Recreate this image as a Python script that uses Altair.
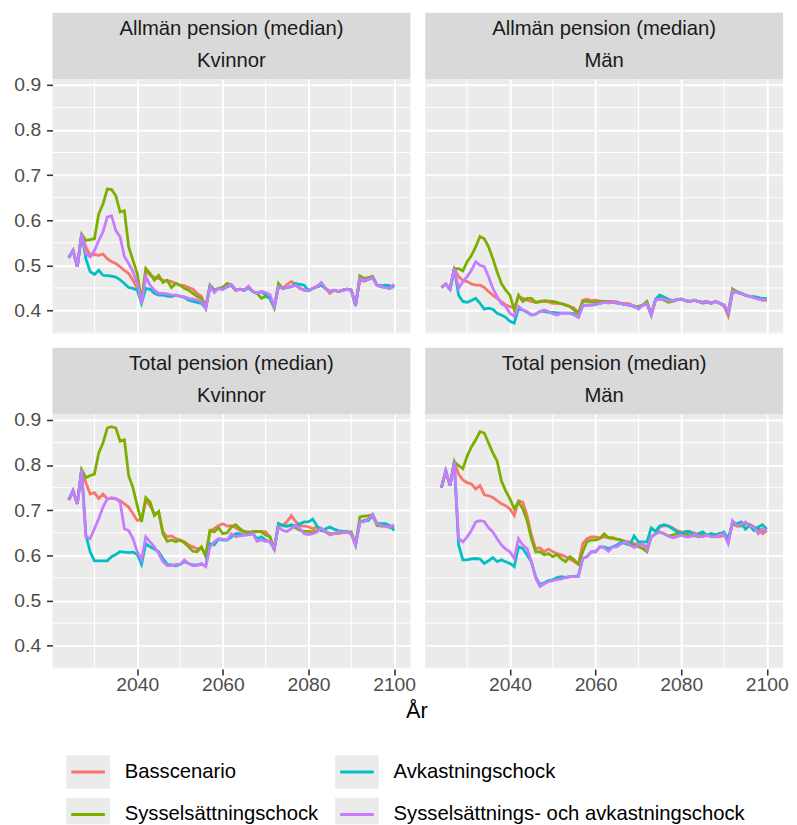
import altair as alt
import pandas as pd

YEARS = list(range(2024, 2101))
SERIES = ["Basscenario", "Sysselsättningschock", "Avkastningschock",
          "Sysselsättnings- och avkastningschock"]
COLORS = ["#F8766D", "#7CAE00", "#00BFC4", "#C77CFF"]
PANEL_TYPE = ["Allmän pension (median)", "Allmän pension (median)",
              "Total pension (median)", "Total pension (median)"]
PANEL_SEX = ["Kvinnor", "Män", "Kvinnor", "Män"]
X_TITLE = "År"

# ---- Allmän pension, Kvinnor ----
AK_BAS = [0.517, 0.533, 0.497, 0.569, 0.541, 0.522, 0.524, 0.522, 0.525, 0.515,
          0.508, 0.504, 0.497, 0.489, 0.482, 0.467, 0.449, 0.418, 0.489, 0.478,
          0.474, 0.471, 0.467, 0.466, 0.464, 0.460, 0.456, 0.455, 0.451, 0.447,
          0.438, 0.431, 0.409, 0.456, 0.445, 0.449, 0.447, 0.453, 0.456, 0.445,
          0.447, 0.445, 0.451, 0.442, 0.438, 0.442, 0.434, 0.427, 0.409, 0.453,
          0.449, 0.458, 0.464, 0.458, 0.449, 0.445, 0.444, 0.449, 0.453, 0.456,
          0.449, 0.438, 0.445, 0.442, 0.445, 0.447, 0.445, 0.412, 0.468, 0.465,
          0.469, 0.473, 0.456, 0.453, 0.451, 0.449, 0.456]
AK_SYS = [0.517, 0.533, 0.497, 0.569, 0.555, 0.557, 0.559, 0.614, 0.636, 0.669,
          0.668, 0.654, 0.618, 0.621, 0.541, 0.511, 0.482, 0.420, 0.493, 0.482,
          0.467, 0.478, 0.462, 0.467, 0.451, 0.460, 0.456, 0.449, 0.445, 0.438,
          0.431, 0.427, 0.405, 0.456, 0.445, 0.449, 0.452, 0.460, 0.456, 0.445,
          0.447, 0.445, 0.451, 0.442, 0.438, 0.427, 0.431, 0.427, 0.405, 0.460,
          0.449, 0.451, 0.453, 0.456, 0.449, 0.445, 0.444, 0.449, 0.453, 0.456,
          0.449, 0.442, 0.445, 0.442, 0.445, 0.447, 0.445, 0.412, 0.477, 0.471,
          0.473, 0.476, 0.456, 0.453, 0.451, 0.449, 0.456]
AK_AVK = [0.517, 0.533, 0.497, 0.569, 0.515, 0.486, 0.480, 0.489, 0.478, 0.477,
          0.476, 0.474, 0.468, 0.460, 0.451, 0.449, 0.445, 0.416, 0.449, 0.447,
          0.438, 0.434, 0.434, 0.432, 0.431, 0.434, 0.431, 0.429, 0.423, 0.420,
          0.418, 0.416, 0.405, 0.454, 0.442, 0.449, 0.447, 0.453, 0.456, 0.445,
          0.447, 0.445, 0.451, 0.442, 0.438, 0.442, 0.434, 0.427, 0.409, 0.453,
          0.449, 0.451, 0.453, 0.460, 0.458, 0.456, 0.444, 0.449, 0.453, 0.456,
          0.449, 0.442, 0.445, 0.442, 0.445, 0.447, 0.445, 0.410, 0.471, 0.467,
          0.469, 0.473, 0.456, 0.455, 0.456, 0.455, 0.451]
AK_BOTH = [0.517, 0.533, 0.497, 0.569, 0.526, 0.519, 0.533, 0.555, 0.574, 0.607,
           0.610, 0.577, 0.563, 0.519, 0.504, 0.486, 0.460, 0.416, 0.475, 0.456,
           0.445, 0.438, 0.438, 0.437, 0.434, 0.434, 0.432, 0.430, 0.427, 0.425,
           0.423, 0.420, 0.405, 0.453, 0.440, 0.449, 0.447, 0.453, 0.458, 0.445,
           0.447, 0.445, 0.454, 0.442, 0.438, 0.442, 0.440, 0.435, 0.409, 0.453,
           0.449, 0.451, 0.453, 0.456, 0.449, 0.445, 0.444, 0.449, 0.453, 0.462,
           0.449, 0.442, 0.445, 0.442, 0.445, 0.447, 0.445, 0.412, 0.471, 0.467,
           0.469, 0.473, 0.456, 0.453, 0.451, 0.449, 0.458]

# ---- Allmän pension, Män ----
AM_BAS = [0.451, 0.459, 0.447, 0.493, 0.475, 0.467, 0.464, 0.459, 0.456, 0.456,
          0.451, 0.442, 0.434, 0.427, 0.420, 0.412, 0.409, 0.405, 0.431, 0.427,
          0.423, 0.420, 0.418, 0.419, 0.420, 0.419, 0.416, 0.416, 0.415, 0.413,
          0.409, 0.405, 0.394, 0.423, 0.425, 0.422, 0.423, 0.421, 0.420, 0.420,
          0.420, 0.419, 0.416, 0.416, 0.415, 0.409, 0.405, 0.412, 0.418, 0.390,
          0.423, 0.425, 0.425, 0.422, 0.422, 0.424, 0.425, 0.422, 0.420, 0.423,
          0.420, 0.416, 0.418, 0.416, 0.420, 0.416, 0.410, 0.388, 0.442, 0.440,
          0.438, 0.434, 0.431, 0.430, 0.429, 0.423, 0.425]
AM_SYS = [0.451, 0.459, 0.447, 0.493, 0.493, 0.488, 0.508, 0.522, 0.541, 0.564,
          0.559, 0.541, 0.515, 0.486, 0.460, 0.445, 0.434, 0.401, 0.434, 0.420,
          0.427, 0.427, 0.418, 0.420, 0.422, 0.421, 0.420, 0.418, 0.415, 0.412,
          0.409, 0.401, 0.394, 0.420, 0.420, 0.419, 0.418, 0.420, 0.421, 0.419,
          0.418, 0.417, 0.415, 0.413, 0.412, 0.409, 0.409, 0.412, 0.420, 0.392,
          0.423, 0.427, 0.423, 0.418, 0.420, 0.424, 0.425, 0.422, 0.420, 0.423,
          0.420, 0.418, 0.420, 0.416, 0.420, 0.416, 0.412, 0.398, 0.448, 0.442,
          0.438, 0.434, 0.431, 0.430, 0.427, 0.423, 0.423]
AM_AVK = [0.451, 0.459, 0.447, 0.493, 0.434, 0.420, 0.418, 0.422, 0.427, 0.416,
          0.403, 0.405, 0.403, 0.394, 0.390, 0.385, 0.376, 0.372, 0.405, 0.401,
          0.396, 0.390, 0.392, 0.398, 0.398, 0.396, 0.396, 0.395, 0.394, 0.394,
          0.394, 0.393, 0.385, 0.410, 0.412, 0.412, 0.413, 0.416, 0.418, 0.417,
          0.418, 0.417, 0.415, 0.413, 0.412, 0.409, 0.405, 0.412, 0.415, 0.390,
          0.425, 0.434, 0.430, 0.425, 0.422, 0.424, 0.425, 0.422, 0.420, 0.423,
          0.420, 0.418, 0.420, 0.416, 0.420, 0.416, 0.412, 0.394, 0.442, 0.440,
          0.438, 0.434, 0.431, 0.430, 0.428, 0.427, 0.427]
AM_BOTH = [0.451, 0.459, 0.447, 0.493, 0.449, 0.464, 0.475, 0.489, 0.508, 0.500,
           0.497, 0.475, 0.449, 0.431, 0.415, 0.409, 0.394, 0.387, 0.409, 0.401,
           0.398, 0.390, 0.392, 0.398, 0.401, 0.398, 0.393, 0.390, 0.394, 0.394,
           0.394, 0.390, 0.385, 0.412, 0.412, 0.412, 0.414, 0.416, 0.418, 0.417,
           0.418, 0.417, 0.415, 0.413, 0.412, 0.411, 0.403, 0.412, 0.415, 0.390,
           0.423, 0.425, 0.425, 0.422, 0.422, 0.424, 0.425, 0.422, 0.420, 0.423,
           0.420, 0.418, 0.420, 0.416, 0.420, 0.416, 0.412, 0.396, 0.444, 0.440,
           0.438, 0.434, 0.431, 0.428, 0.425, 0.423, 0.425]

# ---- Total pension, Kvinnor ----
TK_BAS = [0.723, 0.743, 0.714, 0.790, 0.761, 0.736, 0.739, 0.726, 0.736, 0.725,
          0.726, 0.725, 0.721, 0.714, 0.707, 0.692, 0.677, 0.681, 0.721, 0.710,
          0.692, 0.696, 0.652, 0.641, 0.643, 0.637, 0.634, 0.630, 0.623, 0.619,
          0.614, 0.617, 0.601, 0.655, 0.659, 0.666, 0.670, 0.665, 0.666, 0.661,
          0.655, 0.653, 0.652, 0.650, 0.653, 0.653, 0.652, 0.641, 0.615, 0.670,
          0.666, 0.675, 0.688, 0.675, 0.666, 0.665, 0.663, 0.659, 0.663, 0.655,
          0.652, 0.646, 0.648, 0.648, 0.650, 0.653, 0.648, 0.623, 0.674, 0.677,
          0.681, 0.685, 0.670, 0.668, 0.665, 0.661, 0.666]
TK_SYS = [0.723, 0.743, 0.714, 0.790, 0.772, 0.777, 0.780, 0.827, 0.849, 0.882,
          0.885, 0.882, 0.853, 0.856, 0.776, 0.750, 0.710, 0.674, 0.728, 0.718,
          0.688, 0.697, 0.648, 0.631, 0.634, 0.630, 0.634, 0.628, 0.619, 0.609,
          0.608, 0.619, 0.597, 0.655, 0.652, 0.661, 0.648, 0.650, 0.663, 0.668,
          0.659, 0.652, 0.650, 0.653, 0.653, 0.652, 0.645, 0.641, 0.612, 0.670,
          0.666, 0.665, 0.666, 0.661, 0.655, 0.653, 0.653, 0.652, 0.655, 0.659,
          0.653, 0.648, 0.648, 0.652, 0.653, 0.652, 0.652, 0.624, 0.685, 0.687,
          0.688, 0.690, 0.666, 0.665, 0.665, 0.663, 0.663]
TK_AVK = [0.723, 0.743, 0.714, 0.790, 0.645, 0.608, 0.588, 0.588, 0.588, 0.588,
          0.597, 0.602, 0.608, 0.607, 0.606, 0.607, 0.602, 0.580, 0.626, 0.619,
          0.614, 0.608, 0.593, 0.580, 0.579, 0.577, 0.580, 0.586, 0.582, 0.579,
          0.579, 0.580, 0.577, 0.626, 0.623, 0.636, 0.634, 0.634, 0.641, 0.648,
          0.648, 0.645, 0.646, 0.648, 0.637, 0.641, 0.634, 0.630, 0.614, 0.670,
          0.666, 0.665, 0.668, 0.665, 0.670, 0.674, 0.674, 0.680, 0.665, 0.655,
          0.659, 0.663, 0.658, 0.655, 0.653, 0.652, 0.648, 0.623, 0.674, 0.677,
          0.677, 0.690, 0.670, 0.670, 0.670, 0.666, 0.655]
TK_BOTH = [0.723, 0.743, 0.714, 0.790, 0.641, 0.637, 0.659, 0.681, 0.707, 0.725,
           0.728, 0.726, 0.718, 0.659, 0.655, 0.637, 0.608, 0.590, 0.641, 0.630,
           0.619, 0.604, 0.586, 0.577, 0.577, 0.580, 0.580, 0.590, 0.582, 0.577,
           0.577, 0.582, 0.575, 0.619, 0.630, 0.637, 0.636, 0.634, 0.648, 0.641,
           0.643, 0.645, 0.646, 0.648, 0.631, 0.634, 0.631, 0.631, 0.615, 0.663,
           0.655, 0.653, 0.659, 0.666, 0.659, 0.648, 0.646, 0.648, 0.652, 0.661,
           0.652, 0.645, 0.648, 0.653, 0.650, 0.652, 0.648, 0.623, 0.674, 0.674,
           0.681, 0.690, 0.670, 0.666, 0.665, 0.663, 0.668]

# ---- Total pension, Män ----
TM_BAS = [0.750, 0.787, 0.755, 0.807, 0.780, 0.767, 0.761, 0.758, 0.747, 0.755,
          0.734, 0.732, 0.728, 0.721, 0.714, 0.710, 0.703, 0.688, 0.721, 0.718,
          0.688, 0.645, 0.615, 0.617, 0.608, 0.614, 0.608, 0.604, 0.601, 0.597,
          0.592, 0.586, 0.580, 0.626, 0.637, 0.641, 0.641, 0.639, 0.641, 0.639,
          0.637, 0.636, 0.634, 0.631, 0.630, 0.626, 0.624, 0.623, 0.619, 0.641,
          0.648, 0.663, 0.666, 0.665, 0.661, 0.655, 0.652, 0.648, 0.652, 0.650,
          0.646, 0.645, 0.643, 0.645, 0.643, 0.641, 0.645, 0.630, 0.674, 0.670,
          0.666, 0.672, 0.668, 0.663, 0.658, 0.648, 0.655]
TM_SYS = [0.750, 0.787, 0.755, 0.807, 0.799, 0.792, 0.820, 0.840, 0.856, 0.874,
          0.871, 0.849, 0.827, 0.809, 0.765, 0.743, 0.725, 0.703, 0.718, 0.703,
          0.677, 0.637, 0.608, 0.608, 0.601, 0.604, 0.597, 0.602, 0.592, 0.586,
          0.597, 0.590, 0.580, 0.608, 0.630, 0.634, 0.634, 0.637, 0.648, 0.639,
          0.639, 0.636, 0.634, 0.630, 0.626, 0.623, 0.619, 0.615, 0.608, 0.641,
          0.648, 0.652, 0.648, 0.643, 0.645, 0.648, 0.645, 0.648, 0.643, 0.645,
          0.641, 0.643, 0.645, 0.648, 0.646, 0.648, 0.646, 0.634, 0.670, 0.665,
          0.665, 0.670, 0.668, 0.663, 0.659, 0.655, 0.658]
TM_AVK = [0.750, 0.787, 0.755, 0.807, 0.623, 0.590, 0.590, 0.592, 0.593, 0.592,
          0.582, 0.588, 0.595, 0.586, 0.590, 0.586, 0.582, 0.575, 0.619, 0.615,
          0.601, 0.586, 0.553, 0.535, 0.539, 0.544, 0.546, 0.551, 0.553, 0.551,
          0.553, 0.553, 0.555, 0.593, 0.597, 0.608, 0.608, 0.619, 0.619, 0.615,
          0.619, 0.623, 0.630, 0.626, 0.623, 0.643, 0.630, 0.630, 0.630, 0.661,
          0.653, 0.665, 0.668, 0.665, 0.659, 0.652, 0.648, 0.653, 0.653, 0.643,
          0.648, 0.652, 0.645, 0.648, 0.645, 0.648, 0.652, 0.637, 0.672, 0.670,
          0.674, 0.658, 0.666, 0.655, 0.663, 0.668, 0.658]
TM_BOTH = [0.750, 0.787, 0.755, 0.807, 0.637, 0.630, 0.641, 0.655, 0.674, 0.677,
           0.675, 0.661, 0.652, 0.637, 0.623, 0.614, 0.608, 0.593, 0.637, 0.623,
           0.615, 0.586, 0.550, 0.531, 0.537, 0.542, 0.544, 0.546, 0.548, 0.551,
           0.553, 0.553, 0.553, 0.593, 0.597, 0.608, 0.608, 0.619, 0.617, 0.609,
           0.619, 0.619, 0.626, 0.630, 0.623, 0.617, 0.623, 0.626, 0.612, 0.641,
           0.648, 0.652, 0.648, 0.643, 0.639, 0.641, 0.645, 0.641, 0.641, 0.645,
           0.643, 0.641, 0.645, 0.641, 0.641, 0.645, 0.648, 0.626, 0.677, 0.666,
           0.668, 0.674, 0.665, 0.663, 0.648, 0.659, 0.655]

PANELS = [
    [AK_BAS, AK_SYS, AK_AVK, AK_BOTH],
    [AM_BAS, AM_SYS, AM_AVK, AM_BOTH],
    [TK_BAS, TK_SYS, TK_AVK, TK_BOTH],
    [TM_BAS, TM_SYS, TM_AVK, TM_BOTH],
]

X_MAJOR = [2040, 2060, 2080, 2100]
X_MINOR = [2030, 2050, 2070, 2090]
Y_MAJOR = [0.4, 0.5, 0.6, 0.7, 0.8, 0.9]
Y_MINOR = [0.35, 0.45, 0.55, 0.65, 0.75, 0.85]

# ---- build long table ----
rows = []
for p, series_lists in enumerate(PANELS):
    for s, vals in enumerate(series_lists):
        assert len(vals) == len(YEARS), (p, s, len(vals))
        for yr, v in zip(YEARS, vals):
            rows.append({"panel": p, "serie": SERIES[s], "year": yr, "value": v})
df = pd.DataFrame(rows)

FONT = "Liberation Sans"
W, H, SH = 362, 258, 67
XDOM = [2020.2, 2103.8]
YDOM = [0.348, 0.913]
BG = "#EBEBEB"
STRIP = "#D9D9D9"

cscale = alt.Scale(domain=SERIES, range=COLORS)


def make_axes(show_x, show_y):
    xa = alt.Axis(values=X_MAJOR, format="d", grid=True, gridColor="white",
                  gridWidth=2, labels=show_x, ticks=show_x, domain=False,
                  tickColor="#333333", tickSize=6, tickWidth=1.6,
                  labelFontSize=19.5, labelColor="#4D4D4D", labelFont=FONT,
                  labelPadding=1, title=None, minExtent=0, maxExtent=200)
    ya = alt.Axis(values=Y_MAJOR, format=".1f", grid=True, gridColor="white",
                  gridWidth=2, labels=show_y, ticks=show_y, domain=False,
                  tickColor="#333333", tickSize=6, tickWidth=1.6,
                  labelFontSize=19.5, labelColor="#4D4D4D", labelFont=FONT,
                  labelPadding=6, title=None, minExtent=0, maxExtent=200)
    return xa, ya


def panel(p, show_x, show_y):
    xa, ya = make_axes(show_x, show_y)
    xs = alt.Scale(domain=XDOM, nice=False, zero=False)
    ys = alt.Scale(domain=YDOM, nice=False, zero=False)
    vminor = alt.Chart(pd.DataFrame({"year": X_MINOR})).mark_rule(
        color="white", strokeWidth=1).encode(
        x=alt.X("year:Q", scale=xs, axis=xa))
    hminor = alt.Chart(pd.DataFrame({"value": Y_MINOR})).mark_rule(
        color="white", strokeWidth=1).encode(
        y=alt.Y("value:Q", scale=ys, axis=ya))
    lines = alt.Chart(df[df.panel == p]).mark_line(strokeWidth=2.8).encode(
        x=alt.X("year:Q", scale=xs, axis=xa),
        y=alt.Y("value:Q", scale=ys, axis=ya),
        color=alt.Color("serie:N", scale=cscale, legend=None),
    )
    # facet strip (grey band with two label lines) above the panel
    sd = alt.Chart(pd.DataFrame({"l1": [PANEL_TYPE[p]], "l2": [PANEL_SEX[p]]}))
    band = sd.mark_rect(color=STRIP).encode(
        x=alt.value(0), x2=alt.value(W), y=alt.value(-SH), y2=alt.value(0))
    t1 = sd.mark_text(font=FONT, fontSize=20.5, color="#1A1A1A",
                      baseline="alphabetic").encode(
        x=alt.value(W / 2), y=alt.value(-SH + 22.8), text="l1:N")
    t2 = sd.mark_text(font=FONT, fontSize=20.5, color="#1A1A1A",
                      baseline="alphabetic").encode(
        x=alt.value(W / 2), y=alt.value(-SH + 54.5), text="l2:N")
    return alt.layer(vminor, hminor, lines, band, t1, t2).properties(
        width=W, height=H, view=alt.ViewBackground(fill=BG, strokeWidth=0))


grid = alt.concat(panel(0, False, True), panel(1, False, False),
                  panel(2, True, True), panel(3, True, False),
                  columns=2, spacing={"row": 13, "column": 8})

# ---- legend (drawn as marks, ggplot style, 2 rows filled column-wise) ----
leg = pd.DataFrame({"serie": SERIES})
leg["col"] = [i // 2 for i in range(len(SERIES))]
leg["row"] = [i % 2 for i in range(len(SERIES))]
lx = alt.X("col:Q", scale=alt.Scale(domain=[0, 1], range=[36, 308]), axis=None)
ly = alt.Y("row:Q", scale=alt.Scale(domain=[0, 1], range=[33, 76]), axis=None)
lbase = alt.Chart(leg)
boxes = lbase.mark_point(shape="M-1.3,-1H1.3V1H-1.3Z", size=1156, filled=True,
                         color="#EBEBEB", opacity=1, clip=True).encode(x=lx, y=ly)
keys = lbase.mark_point(shape="stroke", size=1156, filled=False, strokeWidth=3,
                        opacity=1, clip=True).encode(
    x=lx, y=ly, color=alt.Color("serie:N", scale=cscale, legend=None))
labels = lbase.mark_text(align="left", baseline="middle", dx=37, fontSize=20.5,
                         font=FONT, color="black").encode(x=lx, y=ly, text="serie:N")
legend = alt.layer(boxes, keys, labels).properties(
    width=2 * W + 13, height=86,
    view=alt.ViewBackground(fill="white", strokeWidth=0),
    title=alt.TitleParams(text=X_TITLE, orient="top", anchor="middle",
                          frame="group", fontSize=22, font=FONT, color="black",
                          fontWeight="normal", baseline="alphabetic", offset=0),
)

chart = alt.vconcat(grid, legend, spacing=5).properties(
    padding={"left": 5, "top": 0, "right": 0, "bottom": 0},
    background="white",
).configure_view(strokeWidth=0).configure(font=FONT)

chart.save("out.html", embed_options={"renderer": "svg", "actions": False})
